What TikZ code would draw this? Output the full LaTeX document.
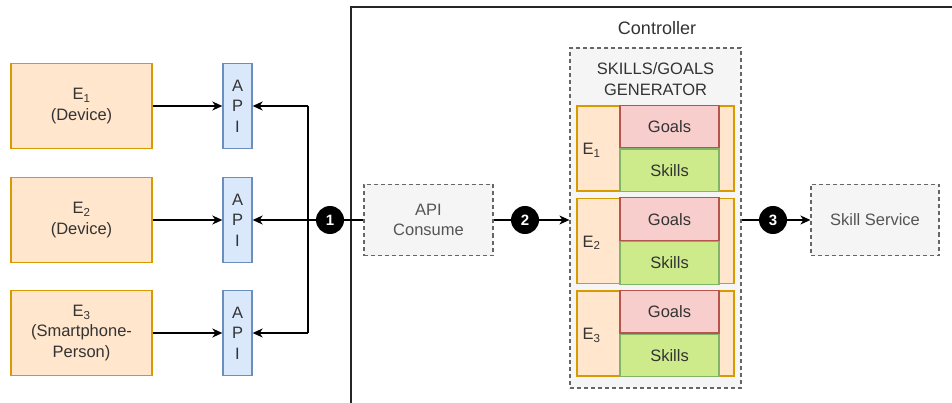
\documentclass[tikz,border=0pt]{standalone}
\usepackage{fontspec}
\setmainfont{Liberation Sans}
\usetikzlibrary{arrows.meta}
\definecolor{efill}{HTML}{FFE6CC}
\definecolor{edraw}{HTML}{D79B00}
\definecolor{afill}{HTML}{DAE8FC}
\definecolor{adraw}{HTML}{6C8EBF}
\definecolor{gfill}{HTML}{F8CECC}
\definecolor{gdraw}{HTML}{B85450}
\definecolor{sfill}{HTML}{CDEB8B}
\definecolor{sdraw}{HTML}{82B366}
\definecolor{dfill}{HTML}{F5F5F5}
\definecolor{ddraw}{HTML}{666666}
\definecolor{txt}{HTML}{333333}
\definecolor{txtb}{HTML}{555555}
\tikzset{
  lbl/.style={font=\fontsize{16.5}{20.5}\selectfont, text=txt, align=center},
  ebox/.style={lbl, draw=edraw, fill=efill, line width=1.3pt, minimum width=141pt, minimum height=85pt, inner sep=0pt},
  apibox/.style={lbl, draw=adraw, fill=afill, line width=1.3pt, minimum width=29pt, minimum height=85pt, inner sep=0pt},
  dbox/.style={lbl, text=txtb, draw=ddraw, fill=dfill, dashed, dash pattern=on 4pt off 3pt, line width=1.2pt, inner sep=0pt},
  rowbox/.style={draw=edraw, fill=efill, line width=1.3pt, minimum width=157pt, minimum height=85pt, inner sep=0pt},
  goalbox/.style={lbl, draw=gdraw, fill=gfill, line width=1.2pt, minimum width=99pt, minimum height=42.5pt, inner sep=0pt},
  skillbox/.style={lbl, draw=sdraw, fill=sfill, line width=1.2pt, minimum width=99pt, minimum height=42.5pt, inner sep=0pt},
  badge/.style={circle, fill=black, text=white, minimum size=28pt, inner sep=0pt, font=\fontsize{15}{15}\selectfont\bfseries},
  conn/.style={line width=1.4pt, black},
  arr/.style={conn, -{Stealth[length=10pt,width=9pt,inset=3pt]}},
}
\begin{document}
\begin{tikzpicture}[x=1pt,y=-1pt]
\useasboundingbox (0,0) rectangle (952,403);
% controller container
\draw[line width=2pt, black!85] (351,403) -- (351,7) -- (952,7);
\node[lbl, font=\fontsize{18}{20}\selectfont] (ctrl) at (657,28) {Controller};

% entities
\node[ebox] (e1) at (81.5,106) {E\textsubscript{1}\\(Device)};
\node[ebox] (e2) at (81.5,220) {E\textsubscript{2}\\(Device)};
\node[ebox] (e3) at (81.5,333) {E\textsubscript{3}\\(Smartphone-\\Person)};

\node[apibox] (a1) at (237.5,106) {A\\P\\I};
\node[apibox] (a2) at (237.5,220) {A\\P\\I};
\node[apibox] (a3) at (237.5,333) {A\\P\\I};

\draw[arr] (e1.east) -- (a1.west);
\draw[arr] (e2.east) -- (a2.west);
\draw[arr] (e3.east) -- (a3.west);

% API consume
\node[dbox, minimum width=129pt, minimum height=71pt] (apic) at (428.5,220) {API\\Consume};

% bus
\coordinate (j1) at (308,106);
\coordinate (j3) at (308,333);
\draw[conn] (j1) -- (j3);
\draw[arr] (j1) -- (a1.east);
\draw[arr] (j3) -- (a3.east);
\draw[arr] (apic.west) -- (a2.east);
\node[badge] (b1) at (330,220) {1};

% generator
\node[dbox, minimum width=171pt, minimum height=340pt] (gen) at (655.5,218) {};
\node[lbl, text=txt] (gtitle) at (655.5,79) {SKILLS/GOALS\\GENERATOR};

\foreach \i/\y in {1/148.5,2/241,3/333.5}{
  \node[rowbox] (r\i) at (655.5,\y) {};
  \node[goalbox, anchor=south] (g\i) at (669.5,\y) {Goals};
  \node[skillbox, anchor=north] (s\i) at (669.5,\y) {Skills};
  \node[lbl, anchor=west] (el\i) at (579,\y+2) {E\textsubscript{\i}};
}

\draw[arr] (apic.east) -- (apic.east -| gen.west);
\node[badge] (b2) at (525,220) {2};

% skill service
\node[dbox, minimum width=128pt, minimum height=71pt] (ss) at (875,220) {Skill Service};
\draw[arr] (ss.west -| gen.east) -- (ss.west);
\node[badge] (b3) at (773,220) {3};
\end{tikzpicture}
\end{document}
